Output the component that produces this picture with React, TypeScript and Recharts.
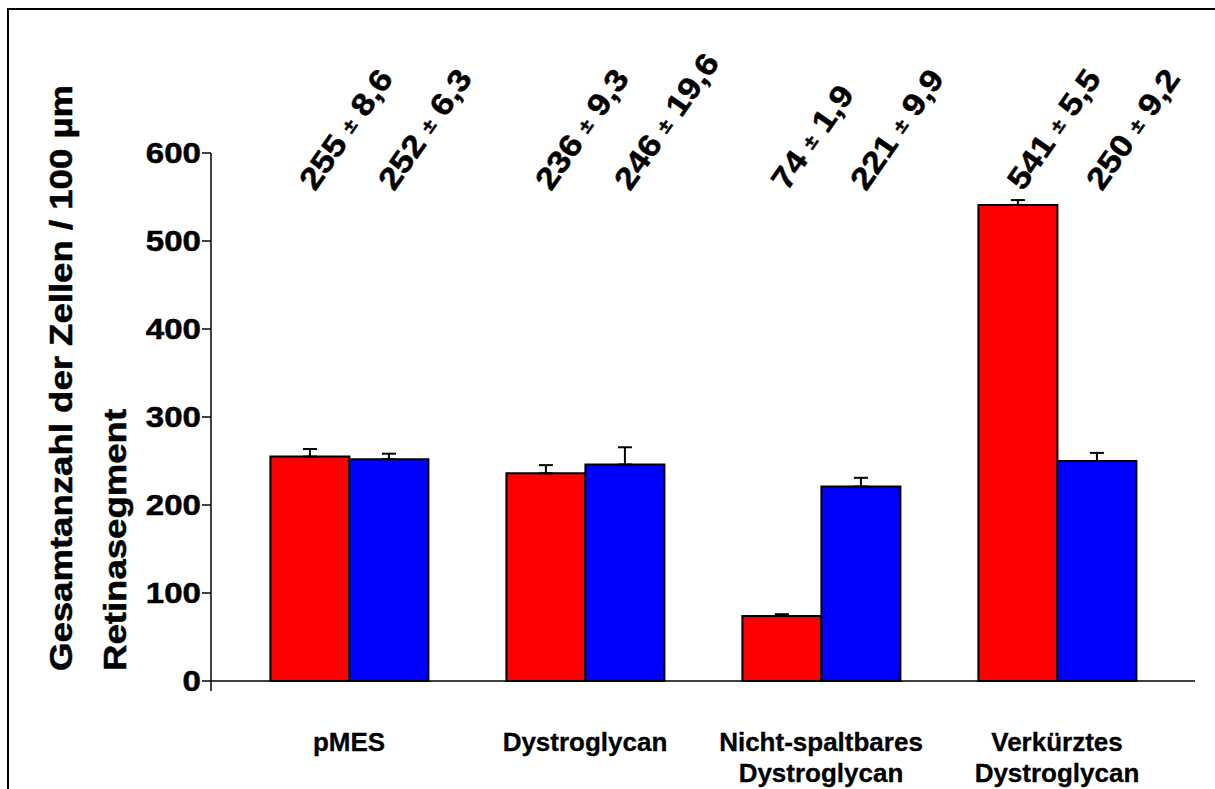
import React from 'react';
import * as R from 'recharts';
import { BarChart, Bar, XAxis, YAxis, ErrorBar, LabelList } from 'recharts';

const categories = ['pMES', 'Dystroglycan', 'Nicht-spaltbares\nDystroglycan', 'Verkürztes\nDystroglycan'];
const redMeans = [255, 236, 74, 541];
const redSD = [8.6, 9.3, 1.9, 5.5];
const blueMeans = [252, 246, 221, 250];
const blueSD = [6.3, 19.6, 9.9, 9.2];
const yTicks = [0, 100, 200, 300, 400, 500, 600];
const yLabelLines = ['Gesamtanzahl der Zellen / 100 µm', 'Retinasegment'];

const data = categories.map((c, i) => ({
  name: c,
  red: redMeans[i],
  redErr: [0, redSD[i]],
  blue: blueMeans[i],
  blueErr: [0, blueSD[i]],
}));

const FONT = '"Liberation Sans", Arial, Helvetica, sans-serif';
const fmt = (v: number) => v.toFixed(1).replace('.', ',');

// transform: rotate around anchor, then stretch glyphs along the baseline
const tf = (x: number, y: number, angle: number, sx: number) =>
  `translate(${x}, ${y}) rotate(${angle}) scale(${sx}, 1) translate(${-x}, ${-y})`;

const makeValueLabel = (sds: number[]) => (props: any) => {
  const { x, width, value, index } = props;
  const px = Number(x) + Number(width) / 2 + 5;
  const py = 192;
  return (
    <text
      x={px}
      y={py}
      transform={tf(px, py, -55, 1.13)}
      fontFamily={FONT}
      fontWeight="bold"
      fontSize={31}
      stroke="#000"
      strokeWidth={0.5}
      fill="#000"
      textAnchor="start"
    >
      <tspan>{String(value)} </tspan>
      <tspan fontSize={19} dy={-3}>±</tspan>
      <tspan dy={3}> {fmt(sds[index])}</tspan>
    </text>
  );
};

const CategoryTick = (props: any) => {
  const { x, y, payload } = props;
  const lines = String(payload.value).split('\n');
  return (
    <text
      x={x}
      y={y + 70}
      textAnchor="middle"
      fontFamily={FONT}
      fontWeight="bold"
      fontSize={26}
      stroke="#000"
      strokeWidth={0.3}
      fill="#000"
    >
      {lines.map((l, i) => (
        <tspan key={i} x={x} dy={i === 0 ? 0 : 31}>
          {l}
        </tspan>
      ))}
    </text>
  );
};

const YTick = (props: any) => {
  const { x, y, payload } = props;
  const px = Number(x);
  const py = Number(y);
  return (
    <text
      x={px}
      y={py}
      dy="0.355em"
      transform={tf(px, py, 0, 1.14)}
      textAnchor="end"
      fontFamily={FONT}
      fontWeight="bold"
      fontSize={29}
      stroke="#000"
      strokeWidth={0.5}
      fill="#000"
    >
      {payload.value}
    </text>
  );
};

const YLabel = () => (
  <g>
    {yLabelLines.map((l, i) => {
      const bx = 72 + i * 54;
      const by = 671;
      return (
        <text
          key={i}
          x={bx}
          y={by}
          transform={tf(bx, by, -90, 1.18)}
          textAnchor="start"
          fontFamily={FONT}
          fontWeight="bold"
          fontSize={31}
          stroke="#000"
          strokeWidth={0.5}
          fill="#000"
        >
          {l}
        </text>
      );
    })}
  </g>
);

const usePA: () => any = (R as any).usePlotArea || (R as any).useOffset || (() => null);

const AxisStub = () => {
  const pa = usePA();
  if (!pa) return null;
  const x = pa.x !== undefined ? pa.x : pa.left;
  const yb = pa.y !== undefined && pa.height !== undefined ? pa.y + pa.height : pa.top !== undefined && pa.height !== undefined ? pa.top + pa.height : null;
  if (x == null || yb == null) return null;
  return <line x1={x} y1={yb} x2={x} y2={yb + 10} stroke="#000" strokeWidth={1.5} />;
};

export default function App() {
  return (
    <div
      style={{
        position: 'fixed',
        left: 0,
        top: 0,
        width: 1215,
        height: 789,
        overflow: 'hidden',
        background: '#fff',
      }}
    >
      <div
        style={{
          position: 'absolute',
          left: 7,
          top: 8,
          width: 1300,
          height: 900,
          border: '2px solid #000',
          boxSizing: 'border-box',
        }}
      />
      <div style={{ position: 'absolute', left: 0, top: 0 }}>
        <BarChart
          width={1215}
          height={789}
          data={data}
          margin={{ top: 153, right: 20, bottom: 0, left: 0 }}
          barCategoryGap="16.7%"
          barGap={0}
        >
          <XAxis
            dataKey="name"
            height={108}
            padding={{ left: 20, right: 20 }}
            tickLine={false}
            tickSize={0}
            tickMargin={0}
            axisLine={{ stroke: '#000', strokeWidth: 1.5 }}
            tick={<CategoryTick />}
            interval={0}
          />
          <YAxis
            width={211}
            domain={[0, 600]}
            ticks={yTicks}
            interval={0}
            tickSize={9}
            tickMargin={1}
            axisLine={{ stroke: '#000', strokeWidth: 1.5 }}
            tickLine={{ stroke: '#000', strokeWidth: 1.5 }}
            tick={<YTick />}
            label={<YLabel />}
          />
          <Bar dataKey="red" fill="#FF0000" stroke="#000" strokeWidth={2} isAnimationActive={false}>
            <ErrorBar dataKey="redErr" width={7} stroke="#000" strokeWidth={2} direction="y" isAnimationActive={false} />
            <LabelList dataKey="red" content={makeValueLabel(redSD)} />
          </Bar>
          <Bar dataKey="blue" fill="#0000FF" stroke="#000" strokeWidth={2} isAnimationActive={false}>
            <ErrorBar dataKey="blueErr" width={7} stroke="#000" strokeWidth={2} direction="y" isAnimationActive={false} />
            <LabelList dataKey="blue" content={makeValueLabel(blueSD)} />
          </Bar>
          <AxisStub />
        </BarChart>
      </div>
    </div>
  );
}
